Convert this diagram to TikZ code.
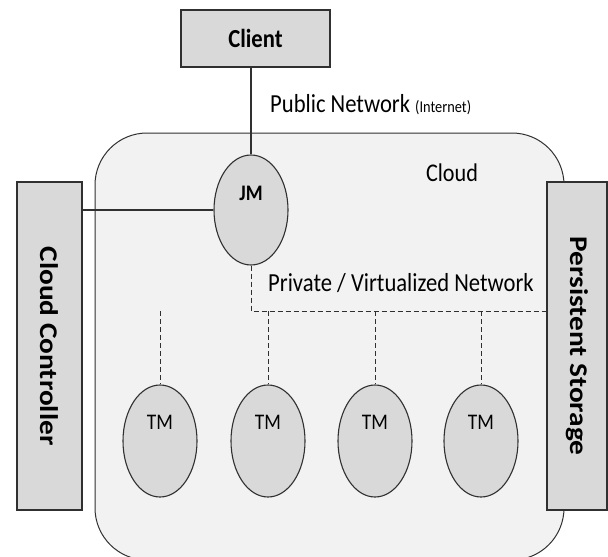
\documentclass[tikz,border=0pt]{standalone}
\usepackage{fontspec}
\setmainfont{Carlito}[FakeStretch=0.87]
\newfontfamily\sidefont{Carlito}
\usetikzlibrary{shapes.geometric}
\definecolor{boxfill}{HTML}{D9D9D9}
\definecolor{cloudfill}{HTML}{F2F2F2}
\definecolor{edge}{HTML}{303030}
\newcommand{\squeezed}[1]{\scalebox{1}[0.87]{#1}}
\begin{document}
\begin{tikzpicture}[x=1pt,y=-1pt,
  box/.style={draw=edge, line width=1.2pt, fill=boxfill, inner sep=0pt},
  sidebox/.style={box, rotate=-90, minimum width=328pt,
                  font=\sidefont\bfseries\fontsize{29.3}{32}\selectfont},
  vm/.style={ellipse, draw=edge, line width=1.1pt, fill=boxfill, inner sep=0pt,
             minimum width=74pt, minimum height=112pt},
  link/.style={draw=edge, line width=1.2pt},
  net/.style={draw=edge, line width=1pt, dash pattern=on 5pt off 3pt},
  lbl/.style={inner sep=0pt, font=\fontsize{26}{30}\selectfont},
  tmtext/.style={inner sep=0pt, font=\fontsize{22.3}{26}\selectfont},
]
\useasboundingbox (0,0) rectangle (608,557);

% the cloud
\node (cloud) [draw=edge, line width=1pt, fill=cloudfill, rounded corners=52pt,
  minimum width=469pt, minimum height=427pt, inner sep=0pt] at (329.5,346.5) {};
\node (cloudlbl) [lbl, font=\fontsize{25.5}{30}\selectfont] at (452,173) {Cloud};

% outside components
\node (client) [box, minimum width=149pt, minimum height=57pt,
  font=\bfseries\fontsize{26}{30}\selectfont] at (255.5,38.5) {Client};
\node (cc) [sidebox, minimum height=65pt] at (49.5,346) {\squeezed{Cloud Controller}};
\node (ps) [sidebox, minimum height=60pt] at (577,346) {\squeezed{Persistent Storage}};

% job manager and task managers
\node (jm) [vm, minimum height=110pt] at (251,210) {};
\node (jmlbl) [inner sep=0pt, font=\bfseries\fontsize{22.2}{26}\selectfont] at (251,193) {JM};
\foreach \i/\x in {1/160,2/268,3/375,4/481}{
  \node (tm\i) [vm] at (\x,441) {};
  \node (tmlbl\i) [tmtext] at (\x,422) {TM};
}

% public network
\draw[link] (jm.north) -- (jm.north |- client.south);
\node (pub) [lbl, anchor=west] at (270,105)
  {Public Network {\fontsize{16.5}{20}\selectfont(Internet)}};

% link to the controller
\draw[link] (jm.west) -- (jm.west -| cc.north);

% private network bus
\coordinate (busL) at (jm.south |- 0,311);
\coordinate (busR) at (ps.south |- busL);
\draw[net] (jm.south) -- (busL) -- (busR);
\foreach \i in {1,...,4}{
  \draw[net] (tm\i.north |- busL) -- (tm\i.north);
}
\node (priv) [lbl, anchor=west] at (268,283) {Private / Virtualized Network};
\end{tikzpicture}
\end{document}
